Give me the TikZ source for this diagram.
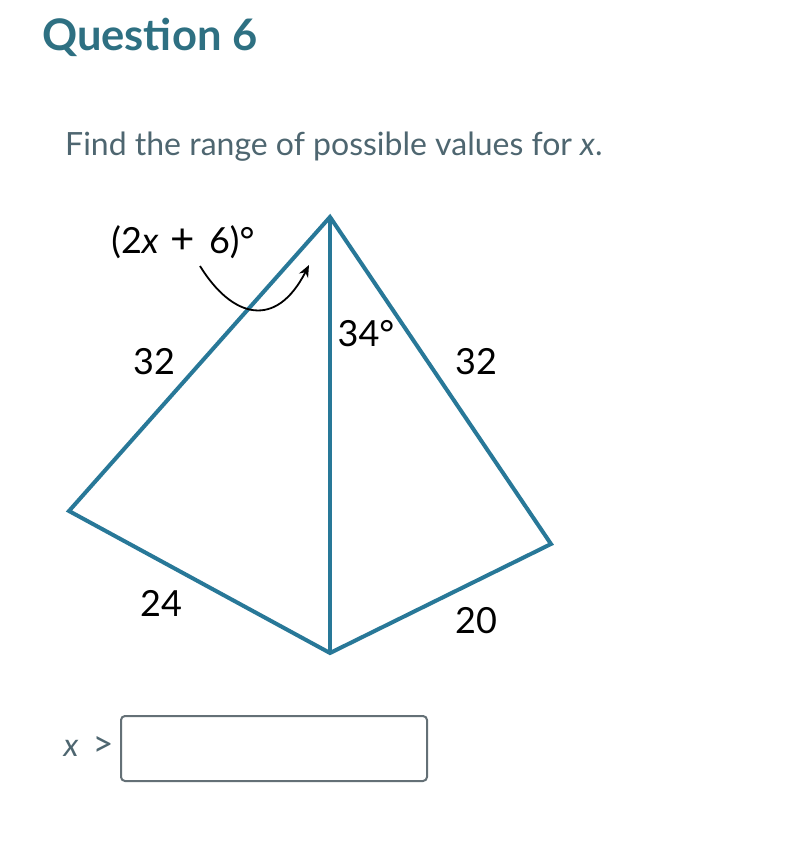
\documentclass[tikz,border=0pt]{standalone}
\usepackage{fontspec}
\setmainfont{Lato}
\usetikzlibrary{arrows.meta}
\definecolor{qteal}{RGB}{46,112,130}
\definecolor{qgray}{RGB}{78,102,112}
\definecolor{qedge}{RGB}{40,120,152}
\definecolor{qbox}{RGB}{100,112,118}
\tikzset{
edge/.style={qedge,line width=4pt,line join=miter},
lbl/.style={font=\fontsize{36}{40}\selectfont,text=black,inner sep=0pt},
title/.style={font=\fontsize{43.5}{48}\selectfont\bfseries,text=qteal,anchor=base west,inner sep=0pt},
texto/.style={font=\fontsize{32}{36}\selectfont,text=qgray,anchor=base west,inner sep=0pt},
answer/.style={draw=qbox,line width=2pt,rounded corners=4pt}
}
\begin{document}
\begin{tikzpicture}[x=1pt,y=-1pt]
    \useasboundingbox[fill=white] (0,0) rectangle (808,850);
    \node[title] (head) at (42,51) {Question 6};
    \node[texto] (ask) at (65,156) {Find the range of possible values for \textit{x}.};

    \coordinate (top) at (330,217);
    \coordinate (bot) at (330,653);
    \coordinate (lft) at (69,511);
    \coordinate (rgt) at (551,544);
    \draw[edge] (top) -- (lft) -- (bot) -- (rgt) -- cycle;
    \draw[edge] (top) -- (bot);

    \node[lbl] (ang) at (183,242) {(2\textit{x}\,\,\fontsize{42}{44}\selectfont+\,\,\fontsize{36}{40}\selectfont6)°};
    \node[lbl] (mid) at (366,334) {34°};
    \node[lbl] (tl) at (154,362) {32};
    \node[lbl] (tr) at (476,362) {32};
    \node[lbl] (bl) at (161,603) {24};
    \node[lbl] (br) at (476,621) {20};

    \coordinate (a1) at (200,266);
    \coordinate (a2) at (309,265);
    \draw[line width=1.8pt,-{Stealth[length=12pt,width=10pt]}] (a1) .. controls (232,318) and (276,330) .. (a2);

    \node[texto,anchor=center] (var) at (71,748) {\textit{x}};
    \node[texto,anchor=center,font=\fontsize{36}{40}\selectfont] (gt) at (103,746) {>};
    \draw[answer] (121,716) rectangle (427,781);
\end{tikzpicture}
\end{document}
